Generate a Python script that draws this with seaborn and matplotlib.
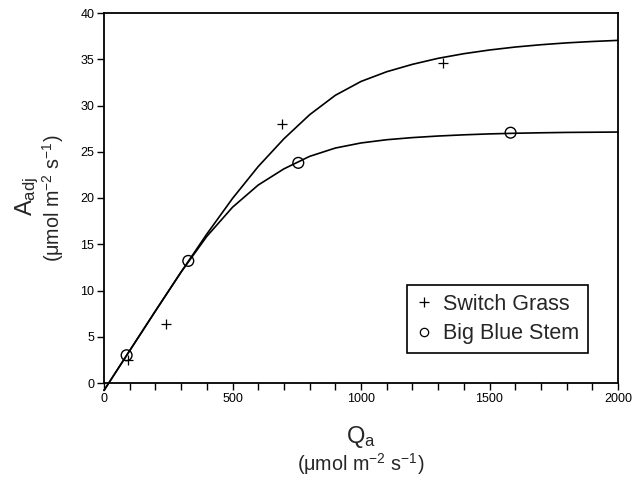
import matplotlib
matplotlib.use("Agg")
import matplotlib.pyplot as plt
from matplotlib.ticker import MultipleLocator, FixedLocator
from matplotlib.lines import Line2D
import seaborn as sns
import pandas as pd

# ---- data ----
sg_q = [95, 240, 691, 1320]
sg_a = [2.5, 6.4, 28.0, 34.55]
bbs_q = [88, 328, 756, 1582]
bbs_a = [3.0, 13.2, 23.8, 27.06]

curve_q = [0, 100, 200, 300, 400, 500, 600, 700, 800, 900, 1000,
           1100, 1200, 1300, 1400, 1500, 1600, 1700, 1800, 1900, 2000]
sg_curve = [-0.8, 3.5, 7.78, 12.0, 16.1, 19.95, 23.4, 26.4, 29.0, 31.1, 32.6,
            33.65, 34.45, 35.1, 35.6, 36.0, 36.32, 36.57, 36.77, 36.92, 37.04]
bbs_curve = [-0.8, 3.5, 7.78, 12.0, 15.85, 19.0, 21.4, 23.15, 24.5, 25.4, 25.95,
             26.3, 26.53, 26.7, 26.83, 26.93, 27.0, 27.05, 27.09, 27.11, 27.13]

x_ticks = [0, 500, 1000, 1500, 2000]
y_ticks = [0, 5, 10, 15, 20, 25, 30, 35, 40]

sns.set_theme(style="white")
plt.rcParams["font.family"] = ["Liberation Sans", "DejaVu Sans"]
plt.rcParams["mathtext.fontset"] = "custom"
plt.rcParams["mathtext.rm"] = "Liberation Sans"
plt.rcParams["mathtext.it"] = "Liberation Sans:italic"
plt.rcParams["mathtext.bf"] = "Liberation Sans:bold"

fig = plt.figure(figsize=(6.4, 4.78), dpi=100)
ax = fig.add_axes([104 / 640, 1 - 383 / 478, 514 / 640, 370 / 478])

curves = pd.DataFrame({"Q": curve_q, "sg": sg_curve, "bbs": bbs_curve})
sns.lineplot(data=curves, x="Q", y="sg", color="black", linewidth=1.2, ax=ax)
sns.lineplot(data=curves, x="Q", y="bbs", color="black", linewidth=1.2, ax=ax)
for ln in ax.lines:
    ln.set_clip_on(False)
    ln.set_solid_joinstyle("round")

sg = pd.DataFrame({"Q": sg_q, "A": sg_a})
bbs = pd.DataFrame({"Q": bbs_q, "A": bbs_a})
sns.scatterplot(data=sg, x="Q", y="A", marker="+", s=55, color="black",
                linewidth=0.9, ax=ax, zorder=3)
sns.scatterplot(data=bbs, x="Q", y="A", marker="o", s=60, facecolor="none",
                edgecolor="black", linewidth=1.0, ax=ax, zorder=3)

ax.set_xlim(0, 2000)
ax.set_ylim(0, 40)
ax.xaxis.set_major_locator(FixedLocator(x_ticks))
ax.xaxis.set_minor_locator(MultipleLocator(100))
ax.yaxis.set_major_locator(FixedLocator(y_ticks))
ax.tick_params(axis="both", which="both", direction="out", length=5,
               width=1.0, color="black", labelsize=9, labelcolor="black",
               pad=2)
ax.tick_params(axis="x", which="both", bottom=True)
ax.tick_params(axis="y", which="both", left=True)
for s in ax.spines.values():
    s.set_color("black")
    s.set_linewidth(1.3)
ax.set_xlabel("")
ax.set_ylabel("")

# axis titles
fig.text(27 / 640, 1 - 196 / 478, r"A$_{\mathrm{adj}}$", rotation=90,
         ha="center", va="center", fontsize=17)
fig.text(53 / 640, 1 - 198 / 478,
         r"(μmol m$^{\mathrm{-2}}$ s$^{\mathrm{-1}}$)", rotation=90,
         ha="center", va="center", fontsize=14.2)
fig.text(361 / 640, 1 - 437 / 478, r"Q$_{\mathrm{a}}$",
         ha="center", va="center", fontsize=17)
fig.text(361 / 640, 1 - 464 / 478,
         r"(μmol m$^{\mathrm{-2}}$ s$^{\mathrm{-1}}$)",
         ha="center", va="center", fontsize=14.2)

handles = [
    Line2D([], [], linestyle="none", marker="+", color="black",
           markersize=7, markeredgewidth=0.9),
    Line2D([], [], linestyle="none", marker="o", markerfacecolor="none",
           markeredgecolor="black", markersize=6, markeredgewidth=0.9),
]
leg = ax.legend(handles, ["Switch Grass", "Big Blue Stem"],
                loc="lower right", bbox_to_anchor=(0.9416, 0.081),
                frameon=True, fancybox=False, fontsize=15.5,
                handlelength=0.8, handletextpad=0.5, borderpad=0.4,
                labelspacing=0.4, borderaxespad=0)
leg.get_frame().set_edgecolor("black")
leg.get_frame().set_linewidth(1.2)
leg.get_frame().set_alpha(1)

fig.savefig("out.png", dpi=100)
